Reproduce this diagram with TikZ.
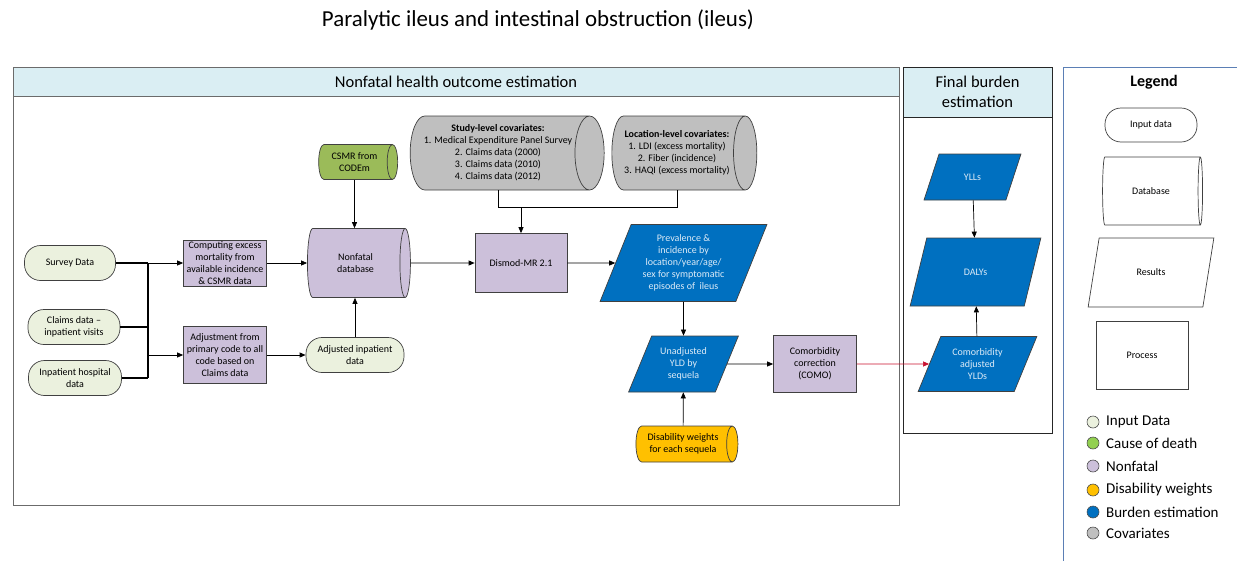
\documentclass[tikz,border=0pt]{standalone}
\usepackage{fontspec}
\setmainfont{Carlito}
\usetikzlibrary{shapes.geometric,arrows.meta}

\definecolor{inputfill}{HTML}{EBF1DE}
\definecolor{codfill}{HTML}{9BBB59}
\definecolor{coddot}{HTML}{92D050}
\definecolor{nffill}{HTML}{CCC0DA}
\definecolor{dwfill}{HTML}{FFC000}
\definecolor{burdenfill}{HTML}{0070C0}
\definecolor{burdentext}{HTML}{DDEBF7}
\definecolor{covfill}{HTML}{BFBFBF}
\definecolor{headfill}{HTML}{DAEEF3}
\definecolor{framegray}{HTML}{6B6B6B}
\definecolor{legendline}{HTML}{5B7FB5}
\definecolor{comoarrow}{HTML}{C8102E}

\begin{document}
\begin{tikzpicture}[x=1pt,y=-1pt,
  every node/.style={font=\fontsize{10}{12}\selectfont, align=center, inner sep=1pt},
  box/.style={draw=black!75, line width=0.7pt},
  indata/.style={box, fill=inputfill, rounded corners=16pt, minimum height=35pt},
  proc/.style={box, fill=nffill, minimum width=83pt},
  dbase/.style={box, cylinder, aspect=0.5},
  result/.style={box, fill=burdenfill, text=burdentext, trapezium,
    trapezium left angle=#1, trapezium right angle=180-#1, trapezium stretches=true},
  arr/.style={-{Triangle[length=6pt,width=5pt]}, line width=0.7pt},
  keydot/.style={circle, draw=black!70, line width=0.6pt, minimum size=12pt, inner sep=0pt},
  keytext/.style={anchor=west, font=\fontsize{15}{18}\selectfont},
  head/.style={font=\fontsize{16.5}{20}\selectfont}]
\useasboundingbox (0,0) rectangle (1237,560);

\node[font=\fontsize{22.9}{27}\selectfont] (title) at (538,20) {Paralytic ileus and intestinal obstruction (ileus)};

% frames
\draw[framegray, line width=1pt, fill=headfill] (13,67) rectangle (899,96);
\draw[framegray, line width=1pt] (13,67) rectangle (899,505);
\node[head] (nfhead) at (456,81.5) {Nonfatal health outcome estimation};

\draw[black!85, line width=1pt, fill=headfill] (903,67) rectangle (1052,117);
\draw[black!85, line width=1pt] (903,67) rectangle (1052,433);
\node[head] (fbhead) at (977.5,92) {Final burden\\estimation};

\draw[legendline, line width=0.8pt] (1063,67) rectangle (1270,600);

% inputs
\node[indata, minimum width=91pt] (survey) at (70,263) {Survey Data};
\node[indata, minimum width=92pt] (claims) at (74,327) {Claims data –\\inpatient visits};
\node[indata, minimum width=93pt] (inpat) at (75,378) {Inpatient hospital\\data};
\coordinate (split) at (148,263);

\node[proc, minimum height=46pt] (excess) at (225,263) {Computing excess\\mortality from\\available incidence\\\& CSMR data};
\node[proc, minimum height=57pt] (adjust) at (225,355) {Adjustment from\\primary code to all\\code based on\\Claims data};

\draw[line width=1.2pt] (survey.east) -- (split);
\draw[line width=1.2pt] (claims.east) -- (claims.east -| split);
\draw[line width=1.2pt] (inpat.east) -- (inpat.east -| split);
\draw[line width=1.2pt] (split) -- (split |- inpat.east);
\draw[arr] (split) -- (excess.west);
\draw[arr] (split |- adjust.west) -- (adjust.west);

% nonfatal database and its inputs (cylinder: height runs along the axis)
\node[dbase, fill=nffill, minimum height=103pt, minimum width=69pt] (nfdb) at (355.5,263) {Nonfatal\\database};
\node[dbase, fill=codfill, minimum height=79pt, minimum width=35pt] (csmr) at (354.5,162) {CSMR from\\CODEm};
\node[indata, minimum width=98pt] (adjinp) at (355,355) {Adjusted inpatient\\data};

\draw[arr] (excess) -- (nfdb);
\draw[arr] (adjust) -- (adjinp);
\draw[arr] (adjinp.north) -- (adjinp.north |- nfdb.south);
\draw[arr] (csmr.south) -- (csmr.south |- nfdb.north);

% covariates and modelling
\node[dbase, fill=covfill, minimum height=194pt, minimum width=74pt] (studycov) at (498,153)
  {\textbf{Study-level covariates:}\\1. Medical Expenditure Panel Survey\\2. Claims data (2000)\\3. Claims data (2010)\\4. Claims data (2012)};
\node[dbase, fill=covfill, minimum height=145pt, minimum width=74pt] (loccov) at (677,153)
  {\textbf{Location-level covariates:}\\1. LDI (excess mortality)\\2. Fiber (incidence)\\3. HAQI (excess mortality)};
\node[proc, minimum width=92pt, minimum height=59pt] (dismod) at (521,263) {Dismod-MR 2.1};
\coordinate (covjoin) at (521,207);

\draw (studycov.south) -- (studycov.south |- covjoin) -| (loccov.south);
\draw[arr] (covjoin) -- (dismod.north);
\draw[arr] (nfdb.east) -- (dismod.west);

% results
\node[result=67, minimum width=167pt, minimum height=77pt] (prev) at (683.5,263)
  {Prevalence \&\\incidence by\\location/year/age/\\sex for symptomatic\\episodes of~ ileus};
\node[result=63, minimum width=110pt, minimum height=56pt] (unadj) at (683.5,364) {Unadjusted\\YLD by\\sequela};
\node[proc, minimum height=57pt] (como) at (815,364) {Comorbidity\\correction\\(COMO)};
\node[dbase, fill=dwfill, minimum height=102pt, minimum width=36pt] (dw) at (683,444) {Disability weights\\for each sequela};

\draw[arr] (dismod) -- (prev);
\draw[arr] (prev) -- (unadj);
\draw[arr] (dw) -- (unadj);
\draw[arr] (unadj) -- (como);

% final burden
\node[result=64, minimum width=119pt, minimum height=55pt] (cay) at (977.5,364) {Comorbidity\\adjusted\\YLDs};
\node[result=63, minimum width=131pt, minimum height=68pt] (dalys) at (975.5,272) {DALYs};
\node[result=63, minimum width=97pt, minimum height=46pt] (ylls) at (972.5,177) {YLLs};

\draw[arr, comoarrow, line width=0.6pt] (como) -- (cay);
\draw[arr] (cay) -- (dalys);
\draw[arr] (ylls) -- (dalys);

% legend
\node[font=\fontsize{16}{19}\selectfont\bfseries] (legtitle) at (1154,82) {Legend};
\node[box, fill=white, rounded corners=16pt, minimum width=92pt, minimum height=34pt] (leginput) at (1151,125) {Input data};
\node[dbase, fill=white, minimum height=100pt, minimum width=68pt] (legdb) at (1151,191) {Database};
\node[box, fill=white, trapezium, trapezium left angle=70, trapezium right angle=110,
  trapezium stretches=true, minimum width=126pt, minimum height=69pt] (legres) at (1151,272.5) {Results};
\node[box, fill=white, minimum width=92pt, minimum height=68pt] (legproc) at (1142,355) {Process};

\foreach \y/\c/\t [count=\i] in {422/inputfill/Input Data, 443/coddot/Cause of death,
    466/nffill/Nonfatal, 490/dwfill/Disability weights,
    512/burdenfill/Burden estimation, 533/covfill/Covariates} {
  \node[keydot, fill=\c] (key\i) at (1093,\y) {};
  \node[keytext] (keytext\i) at (1105,\y) {\t};
}
\end{tikzpicture}
\end{document}
